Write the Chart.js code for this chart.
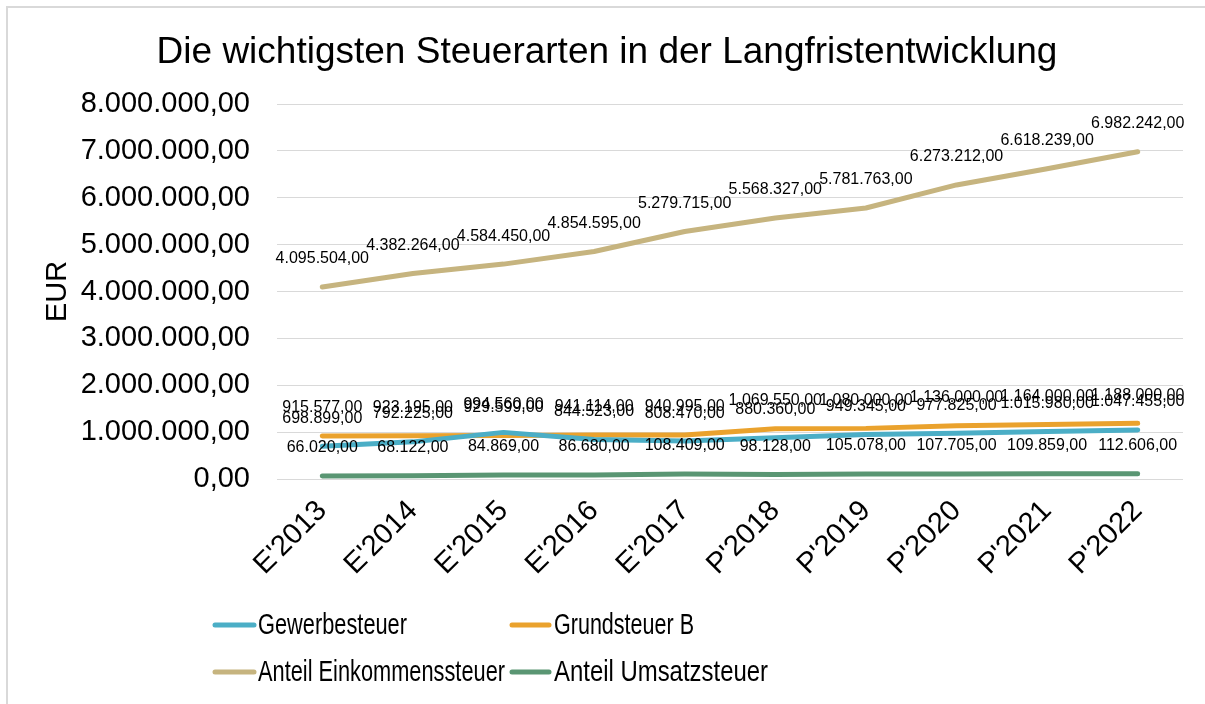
<!DOCTYPE html>
<html>
<head>
<meta charset="utf-8">
<script src="https://cdn.jsdelivr.net/npm/chart.js@4"></script>
<style>
  html, body { margin: 0; padding: 0; background: #fff; overflow: hidden; }
  #wrap { position: relative; width: 1205px; height: 704px; }
  #frame { position: absolute; left: 6px; top: 6px; width: 1300px; height: 800px;
           border-left: 2px solid #d9d9d9; border-top: 2px solid #d9d9d9; pointer-events: none; }
</style>
</head>
<body>
<div id="wrap">
  <canvas id="taxChart" width="1205" height="704"></canvas>
  <div id="frame"></div>
</div>
<script>
const categories = ["E'2013", "E'2014", "E'2015", "E'2016", "E'2017", "P'2018", "P'2019", "P'2020", "P'2021", "P'2022"];
const gewerbesteuer = [698899, 792225, 994560, 844523, 808470, 880360, 949345, 977825, 1015980, 1047455];
const grundsteuerB = [915577, 923195, 929599, 941114, 940995, 1069550, 1080000, 1136000, 1164000, 1188000];
const einkommensteuer = [4095504, 4382264, 4584450, 4854595, 5279715, 5568327, 5781763, 6273212, 6618239, 6982242];
const umsatzsteuer = [66020, 68122, 84869, 86680, 108409, 98128, 105078, 107705, 109859, 112606];
const seriesNames = ["Gewerbesteuer", "Grundsteuer B", "Anteil Einkommenssteuer", "Anteil Umsatzsteuer"];
const seriesColors = ["#4BAEC6", "#EAA22D", "#C6B47F", "#5A9673"];

const FONT = "'Liberation Sans', Arial, sans-serif";

function formatDE(v) {
  const fixed = Math.abs(v).toFixed(2).split(".");
  const intPart = fixed[0].replace(/\B(?=(\d{3})+(?!\d))/g, ".");
  return (v < 0 ? "-" : "") + intPart + "," + fixed[1];
}

// value labels above every point
const valueLabels = {
  id: "valueLabels",
  afterDatasetsDraw(chart) {
    const ctx = chart.ctx;
    ctx.save();
    ctx.font = "16px " + FONT;
    ctx.fillStyle = "#000";
    ctx.textAlign = "center";
    ctx.textBaseline = "middle";
    chart.data.datasets.forEach((ds, i) => {
      chart.getDatasetMeta(i).data.forEach((pt, j) => {
        ctx.fillText(formatDE(ds.data[j]), pt.x, pt.y - 28);
      });
    });
    ctx.restore();
  },
};

// two-column legend like the Excel one
const gridLegend = {
  id: "gridLegend",
  afterDraw(chart) {
    const ctx = chart.ctx;
    const cols = [{ x1: 215, x2: 254, tx: 258 }, { x1: 512, x2: 549, tx: 554 }];
    const rows = [625, 672];
    ctx.save();
    ctx.font = "29px 'Liberation Sans Narrow', 'Arial Narrow', " + FONT;
    ctx.textBaseline = "middle";
    ctx.textAlign = "left";
    chart.data.datasets.forEach((ds, i) => {
      const c = cols[i % 2];
      const y = rows[Math.floor(i / 2)];
      ctx.strokeStyle = ds.borderColor;
      ctx.lineWidth = 5;
      ctx.lineCap = "round";
      ctx.beginPath();
      ctx.moveTo(c.x1, y);
      ctx.lineTo(c.x2, y);
      ctx.stroke();
      ctx.fillStyle = "#000";
      const w = ctx.measureText(ds.label).width;
      const target = { "Gewerbesteuer": 149, "Grundsteuer B": 140, "Anteil Einkommenssteuer": 247, "Anteil Umsatzsteuer": 214 }[ds.label];
      ctx.fillText(ds.label, c.tx, y + 1, Math.min(w, target || w));
    });
    ctx.restore();
  },
};

const allSeries = [gewerbesteuer, grundsteuerB, einkommensteuer, umsatzsteuer];

new Chart(document.getElementById("taxChart").getContext("2d"), {
  type: "line",
  data: {
    labels: categories,
    datasets: allSeries.map((values, i) => ({
      label: seriesNames[i],
      data: values,
      borderColor: seriesColors[i],
      backgroundColor: seriesColors[i],
      borderWidth: 5,
      borderCapStyle: "round",
      borderJoinStyle: "round",
      pointRadius: 0,
      tension: 0,
    })),
  },
  options: {
    responsive: false,
    animation: false,
    layout: { padding: { left: 31, right: 22, top: 0, bottom: 105 } },
    plugins: {
      legend: { display: false },
      tooltip: { enabled: false },
      title: {
        display: true,
        text: "Die wichtigsten Steuerarten in der Langfristentwicklung",
        color: "#000",
        font: { family: FONT, size: 37, weight: "normal" },
        padding: { top: 31, bottom: 28.6 },
      },
    },
    scales: {
      x: {
        offset: true,
        grid: { display: false, drawTicks: false },
        border: { display: false },
        ticks: {
          color: "#000",
          font: { family: FONT, size: 29 },
          minRotation: 45,
          maxRotation: 45,
          padding: 15,
        },
        afterFit(scale) { scale.height = 120; },
      },
      y: {
        min: 0,
        max: 8000000,
        grid: { color: "#d9d9d9", lineWidth: 1, drawTicks: false },
        border: { display: false },
        ticks: {
          stepSize: 1000000,
          color: "#000",
          font: { family: FONT, size: 29 },
          padding: 27,
          callback: (v) => formatDE(v),
        },
        title: {
          display: true,
          text: "EUR",
          color: "#000",
          font: { family: FONT, size: 29 },
          padding: { top: 10, bottom: 0 },
        },
        afterFit(scale) { scale.width = 246; },
      },
    },
  },
  plugins: [valueLabels, gridLegend],
});
</script>
</body>
</html>
